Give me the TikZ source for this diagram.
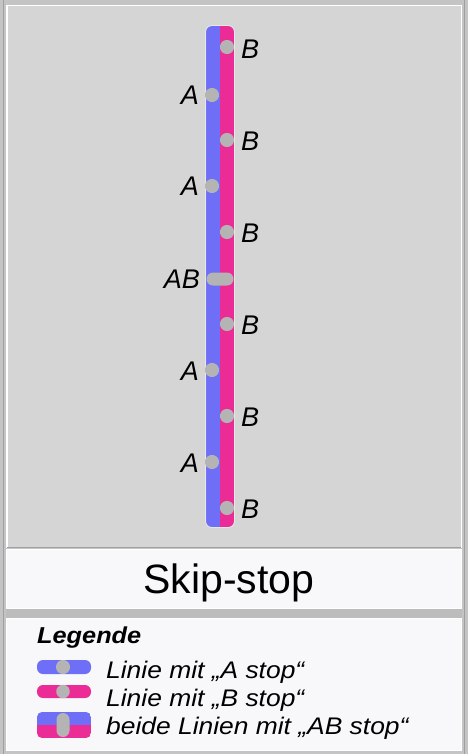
\documentclass[tikz,border=0pt]{standalone}
\usepackage{fontspec}
\usepackage{graphicx}
\setmainfont{Liberation Sans}
\usetikzlibrary{shapes.geometric,shapes.misc}
\definecolor{frameG}{RGB}{196,196,196}
\definecolor{frameD}{RGB}{160,160,160}
\definecolor{panelG}{RGB}{213,213,213}
\definecolor{paperW}{RGB}{248,248,250}
\definecolor{gapG}{RGB}{188,188,188}
\definecolor{blueL}{RGB}{110,110,246}
\definecolor{pinkL}{RGB}{236,44,150}
\definecolor{stopG}{RGB}{180,180,180}
\newcommand\wideA[1]{\scalebox{1.1}[1]{#1}}
\tikzset{
  stopdot/.style={regular polygon, regular polygon sides=8, fill=stopG, draw=none,
    minimum size=15pt, inner sep=0pt, rounded corners=1.5pt},
  abstop/.style={rounded rectangle, fill=stopG, draw=none, minimum width=27pt,
    minimum height=13pt, inner sep=0pt},
  stoplabel/.style={inner sep=0pt, font=\fontsize{27}{32}\selectfont\itshape},
  legtext/.style={inner sep=0pt, anchor=base west, font=\fontsize{24}{28}\selectfont\itshape},
}
\begin{document}
\begin{tikzpicture}[x=1pt,y=-1pt]
\useasboundingbox (0,0) rectangle (468,754);
% frame
\fill[frameG] (0,0) rectangle (468,754);
\draw[frameD, line width=1pt] (3.5,0) -- (3.5,754);
\draw[frameD, line width=1pt] (464.5,0) -- (464.5,754);
% top panel
\fill[white] (6,5) rectangle (462,548);
\fill[panelG] (7.5,6.5) rectangle (461,547);
\draw[frameD, line width=0.8pt] (7,547.5) -- (461,547.5);
% title panel
\fill[white] (6,549) rectangle (462,609);
\fill[paperW] (7,550) rectangle (461,608);
% gap
\fill[gapG] (6,609) rectangle (462,618);
% legend panel
\fill[white] (6,618) rectangle (462,751);
\fill[paperW] (7,619) rectangle (461,750);

% line strips
\begin{scope}
  \clip[rounded corners=6pt] (206,26) rectangle (234,527);
  \fill[blueL] (206,26) rectangle (220,527);
  \fill[pinkL] (220,26) rectangle (234,527);
\end{scope}
\draw[white, opacity=0.45, line width=0.8pt, rounded corners=6pt] (205.6,25.6) rectangle (234.4,527.4);

% stops
\node[stopdot] (sB1) at (227,47) {};
\node[stopdot] (sA1) at (212,95) {};
\node[stopdot] (sB2) at (227,140) {};
\node[stopdot] (sA2) at (212,186) {};
\node[stopdot] (sB3) at (227,232) {};
\node[abstop]  (sAB) at (220,279) {};
\node[stopdot] (sB4) at (227,324) {};
\node[stopdot] (sA3) at (212,370) {};
\node[stopdot] (sB5) at (227,416) {};
\node[stopdot] (sA4) at (212,462) {};
\node[stopdot] (sB6) at (227,508) {};

% labels
\node[stoplabel, anchor=west] (lB1) at (241,49) {B};
\node[stoplabel, anchor=west] (lB2) at (241,141) {B};
\node[stoplabel, anchor=west] (lB3) at (241,233) {B};
\node[stoplabel, anchor=west] (lB4) at (241,325) {B};
\node[stoplabel, anchor=west] (lB5) at (241,417) {B};
\node[stoplabel, anchor=west] (lB6) at (241,509) {B};
\node[stoplabel, anchor=east] (lA1) at (199,95) {A};
\node[stoplabel, anchor=east] (lA2) at (199,186) {A};
\node[stoplabel, anchor=east] (lA3) at (199,371) {A};
\node[stoplabel, anchor=east] (lA4) at (199,463) {A};
\node[stoplabel, anchor=east] (lAB) at (200,279) {AB};

% title
\node[inner sep=0pt, anchor=base, font=\fontsize{41}{48}\selectfont] (title) at (229,593) {Skip-stop};

% legend
\node[inner sep=0pt, anchor=base west, font=\fontsize{23}{26}\selectfont\bfseries\itshape] (leg) at (37,643) {\scalebox{1.1}[1]{Legende}};

\fill[blueL, rounded corners=6pt] (37,660) rectangle (91,674);
\node[stopdot, minimum size=15pt] (iA) at (63,667) {};
\fill[pinkL, rounded corners=6pt] (37,685) rectangle (91,698);
\node[stopdot, minimum size=14.5pt] (iB) at (63,691.5) {};
\begin{scope}
  \clip[rounded corners=5pt] (37,712) rectangle (91,738);
  \fill[blueL] (37,712) rectangle (91,725);
  \fill[pinkL] (37,725) rectangle (91,738);
\end{scope}
\node[rounded rectangle, fill=stopG, minimum width=24pt, minimum height=13pt, inner sep=0pt, rotate=90] (iAB) at (63,725) {};

\node[legtext] (t1) at (106,678) {\wideA{Linie mit „A stop“}};
\node[legtext] (t2) at (106,706) {\wideA{Linie mit „B stop“}};
\node[legtext] (t3) at (106,734) {\wideA{beide Linien mit „AB stop“}};
\end{tikzpicture}
\end{document}
